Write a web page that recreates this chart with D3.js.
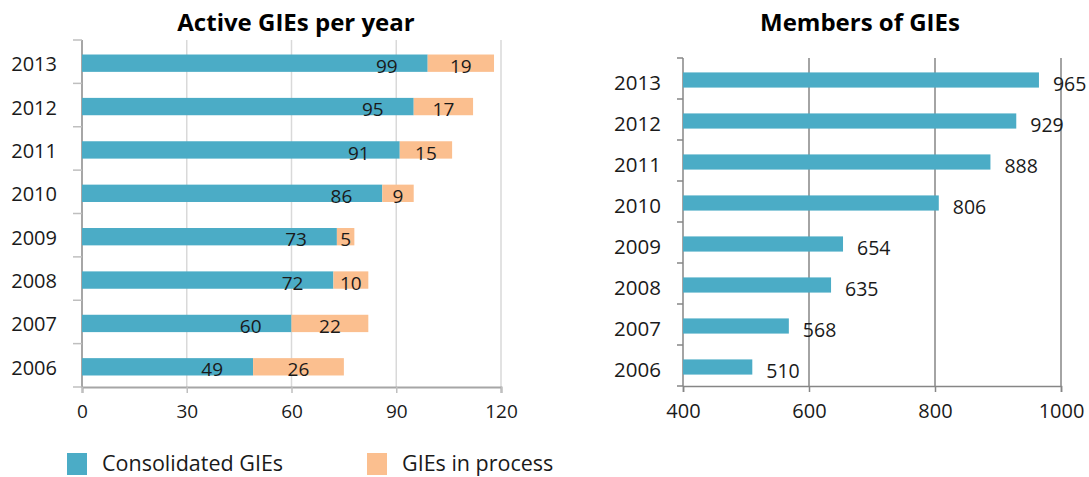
<!DOCTYPE html>
<html>
<head>
<meta charset="utf-8">
<script src="https://cdn.jsdelivr.net/npm/d3@7"></script>
<style>
  html, body { margin: 0; padding: 0; background: #ffffff; }
  svg { display: block; font-family: "Open Sans", "DejaVu Sans", sans-serif; }
</style>
</head>
<body>
<svg id="chart" width="1089" height="477"></svg>
<script>
// Years shown on both panels (top to bottom)
const years = ["2013", "2012", "2011", "2010", "2009", "2008", "2007", "2006"];

// Active GIEs per year
const consolidated = [99, 95, 91, 86, 73, 72, 60, 49];
const inProcess = [19, 17, 15, 9, 5, 10, 22, 26];

// Members of GIEs
const members = [965, 929, 888, 806, 654, 635, 568, 510];

// Axis ticks
const activeTicks = [0, 30, 60, 90, 120];
const memberTicks = [400, 600, 800, 1000];

const seriesNames = ["Consolidated GIEs", "GIEs in process"];

const BLUE = "#4bacc6";
const ORANGE = "#fbbf8f";
const TEXT = "#1a1a1a";

const svg = d3.select("#chart");

// ---------- Left panel: stacked bars ----------
{
  const x = d3.scaleLinear().domain([0, 120]).range([82, 501]);
  const y = d3.scaleBand().domain(years).range([40, 387])
    .paddingInner(0.6).paddingOuter(0.3);
  const g = svg.append("g");

  // light vertical gridlines
  g.append("g").selectAll("line")
    .data(activeTicks.filter(t => t > 0))
    .join("line")
    .attr("x1", d => x(d)).attr("x2", d => x(d))
    .attr("y1", 40).attr("y2", 387)
    .attr("stroke", "#d9d9d9").attr("stroke-width", 1.5);

  // category axis with boundary ticks
  const step = y.step();
  const bounds = d3.range(years.length + 1).map(i => 40 + i * step);
  g.append("line").attr("x1", x(0)).attr("x2", x(0)).attr("y1", 40).attr("y2", 387)
    .attr("stroke", "#a6a6a6").attr("stroke-width", 2);
  g.append("g").selectAll("line").data(bounds).join("line")
    .attr("x1", x(0) - 9).attr("x2", x(0)).attr("y1", d => d).attr("y2", d => d)
    .attr("stroke", "#bfbfbf").attr("stroke-width", 1.5);

  // value axis
  const xAxis = d3.axisBottom(x).tickValues(activeTicks).tickFormat(d3.format("d"))
    .tickSize(6).tickPadding(12);
  const ax = g.append("g").attr("transform", "translate(0,387)").call(xAxis);
  ax.select(".domain").attr("stroke", "#a6a6a6").attr("stroke-width", 2);
  ax.selectAll(".tick line").attr("stroke", "#bfbfbf").attr("stroke-width", 1.5);
  ax.selectAll(".tick text").attr("fill", TEXT).attr("font-size", 19)
    .attr("font-family", "'Open Sans', sans-serif");

  // bars
  const rows = years.map((yr, i) => ({ yr, a: consolidated[i], b: inProcess[i] }));
  const bars = g.append("g").attr("transform", "translate(0,1.5)");
  bars.selectAll("rect.a").data(rows).join("rect").attr("class", "a")
    .attr("x", x(0)).attr("y", d => y(d.yr))
    .attr("width", d => x(d.a) - x(0)).attr("height", y.bandwidth())
    .attr("fill", BLUE);
  bars.selectAll("rect.b").data(rows).join("rect").attr("class", "b")
    .attr("x", d => x(d.a)).attr("y", d => y(d.yr))
    .attr("width", d => x(d.a + d.b) - x(d.a)).attr("height", y.bandwidth())
    .attr("fill", ORANGE);

  // value labels
  bars.selectAll("text.a").data(rows).join("text").attr("class", "a")
    .attr("x", d => x(d.a) - 30).attr("y", d => y(d.yr) + y.bandwidth() + 1)
    .attr("text-anchor", "end").attr("font-size", 19).attr("fill", TEXT)
    .text(d => d.a);
  bars.selectAll("text.b").data(rows).join("text").attr("class", "b")
    .attr("x", d => (x(d.a) + x(d.a + d.b)) / 2).attr("y", d => y(d.yr) + y.bandwidth() + 1)
    .attr("text-anchor", "middle").attr("font-size", 19).attr("fill", TEXT)
    .text(d => d.b);

  // year labels
  g.append("g").selectAll("text").data(years).join("text")
    .attr("x", 57).attr("y", d => y(d) + y.bandwidth() / 2 + 2)
    .attr("text-anchor", "end").attr("dominant-baseline", "central")
    .attr("font-size", 20).attr("fill", TEXT).text(d => d);

  // title
  g.append("text").attr("x", 296).attr("y", 31).attr("text-anchor", "middle")
    .attr("font-size", 24).attr("font-weight", "bold").attr("fill", "#000")
    .text("Active GIEs per year");

  // legend
  const legend = g.append("g");
  const lx = [67, 367];
  const colors = [BLUE, ORANGE];
  seriesNames.forEach((name, i) => {
    legend.append("rect").attr("x", lx[i]).attr("y", 453)
      .attr("width", 20).attr("height", 22).attr("fill", colors[i]);
    legend.append("text").attr("x", lx[i] + 35).attr("y", 471)
      .attr("font-size", 21.5).attr("fill", TEXT).text(name);
  });
}

// ---------- Right panel: members ----------
{
  const x = d3.scaleLinear().domain([400, 1000]).range([683, 1061]);
  const y = d3.scaleBand().domain(years).range([58, 386])
    .paddingInner(0.63).paddingOuter(0.315);
  const g = svg.append("g");
  const GRID = "#868686";

  g.append("g").selectAll("line")
    .data(memberTicks.filter(t => t > 400))
    .join("line")
    .attr("x1", d => x(d)).attr("x2", d => x(d))
    .attr("y1", 58).attr("y2", 386)
    .attr("stroke", GRID).attr("stroke-width", 1.5);

  const step = y.step();
  const bounds = d3.range(years.length + 1).map(i => 58 + i * step);
  g.append("line").attr("x1", x(400)).attr("x2", x(400)).attr("y1", 58).attr("y2", 386)
    .attr("stroke", GRID).attr("stroke-width", 1.5);
  g.append("g").selectAll("line").data(bounds).join("line")
    .attr("x1", x(400) - 6).attr("x2", x(400)).attr("y1", d => d).attr("y2", d => d)
    .attr("stroke", GRID).attr("stroke-width", 1.5);

  const xAxis = d3.axisBottom(x).tickValues(memberTicks).tickFormat(d3.format("d"))
    .tickSize(6).tickPadding(12);
  const ax = g.append("g").attr("transform", "translate(0,386)").call(xAxis);
  ax.select(".domain").attr("stroke", GRID).attr("stroke-width", 1.5);
  ax.selectAll(".tick line").attr("stroke", GRID).attr("stroke-width", 1.5);
  ax.selectAll(".tick text").attr("fill", TEXT).attr("font-size", 20)
    .attr("font-family", "'Open Sans', sans-serif");

  const rows = years.map((yr, i) => ({ yr, v: members[i] }));
  const bars = g.append("g").attr("transform", "translate(0,1.5)");
  bars.selectAll("rect").data(rows).join("rect")
    .attr("x", x(400)).attr("y", d => y(d.yr))
    .attr("width", d => x(d.v) - x(400)).attr("height", y.bandwidth())
    .attr("fill", BLUE);
  bars.selectAll("text").data(rows).join("text")
    .attr("x", d => x(d.v) + 14).attr("y", d => y(d.yr) + y.bandwidth() + 3)
    .attr("font-size", 19.5).attr("fill", TEXT).text(d => d.v);

  g.append("g").selectAll("text").data(years).join("text")
    .attr("x", 661).attr("y", d => y(d) + y.bandwidth() / 2 + 3)
    .attr("text-anchor", "end").attr("dominant-baseline", "central")
    .attr("font-size", 20.5).attr("fill", TEXT).text(d => d);

  g.append("text").attr("x", 860).attr("y", 31).attr("text-anchor", "middle")
    .attr("font-size", 24).attr("font-weight", "bold").attr("fill", "#000")
    .text("Members of GIEs");
}
</script>
</body>
</html>
